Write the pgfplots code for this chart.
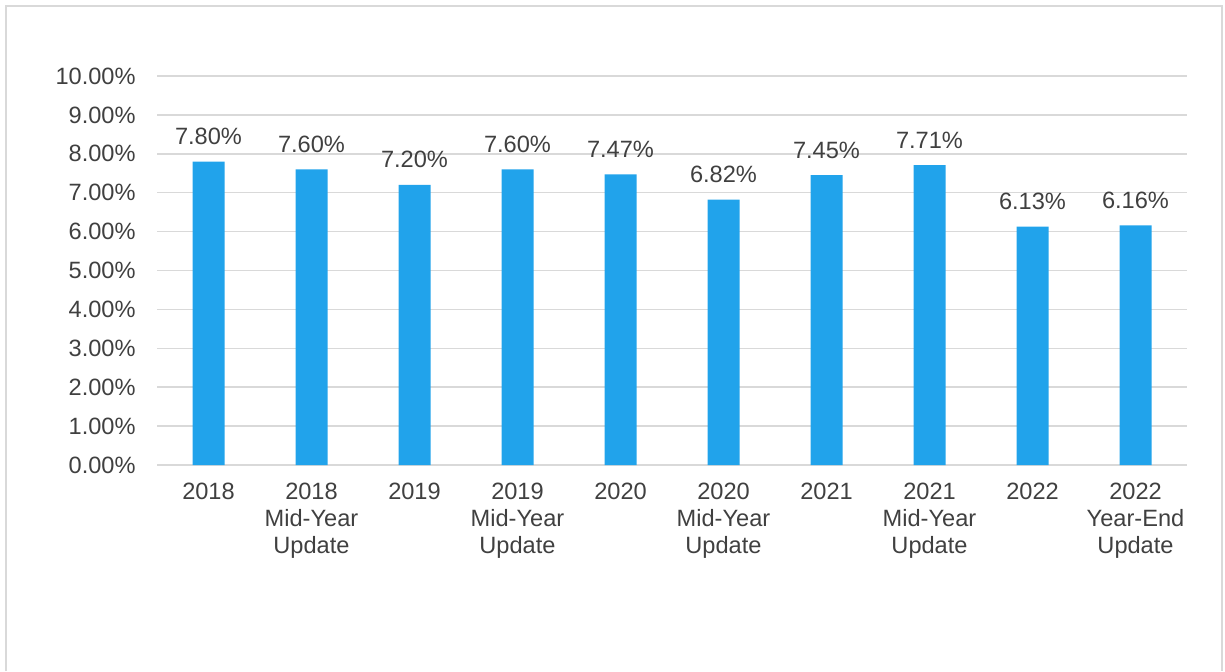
\documentclass[border=0pt]{standalone}
\usepackage{pgfplots}
\pgfplotsset{compat=1.18}
\usepackage{fontspec}
\setmainfont{Liberation Sans}
\definecolor{barblue}{HTML}{21A3EB}
\definecolor{txtgray}{HTML}{404040}
\definecolor{gridgray}{HTML}{D9D9D9}
\begin{document}
\begin{tikzpicture}
\useasboundingbox (0,0) rectangle (612.5pt,335.5pt);
\draw[gridgray, line width=0.75pt] (3pt,0pt) -- (3pt,332.5pt) -- (611pt,332.5pt) -- (611pt,0pt);
\begin{axis}[
  at={(78.5pt,103pt)}, anchor=south west,
  scale only axis, width=515pt, height=194.5pt,
  xmin=-0.5, xmax=9.5, ymin=0, ymax=10,
  axis lines*=left,
  x axis line style={gridgray, line width=0.75pt, -},
  y axis line style={draw=none},
  ytick={0,1,...,10},
  ymajorgrids, grid style={gridgray, line width=0.75pt},
  major tick length=0pt,
  xtick={0,...,9},
  xticklabels={2018, {2018\\Mid-Year\\Update}, 2019, {2019\\Mid-Year\\Update}, 2020, {2020\\Mid-Year\\Update}, 2021, {2021\\Mid-Year\\Update}, 2022, {2022\\Year-End\\Update}},
  /pgf/number format/assume math mode=true,
  ticklabel style={font=\fontsize{11.8}{13.5}\selectfont, text=txtgray},
  xticklabel style={align=center, anchor=north, inner sep=0pt, yshift=-9pt},
  yticklabel style={anchor=east, inner sep=0pt, xshift=-10.5pt},
  yticklabel={\pgfmathprintnumber[fixed,fixed zerofill,precision=2]{\tick}\%},
  nodes near coords={\pgfmathprintnumber[fixed,fixed zerofill,precision=2]{\pgfplotspointmeta}\%},
  nodes near coords style={font=\fontsize{11.8}{13.5}\selectfont, text=txtgray, anchor=base, inner sep=0pt, yshift=8.5pt},
  clip=false,
]
\addplot[ybar, bar width=16pt, fill=barblue, draw=none] coordinates {
 (0,7.80) (1,7.60) (2,7.20) (3,7.60) (4,7.47) (5,6.82) (6,7.45) (7,7.71) (8,6.13) (9,6.16)
};
\end{axis}
\end{tikzpicture}
\end{document}
